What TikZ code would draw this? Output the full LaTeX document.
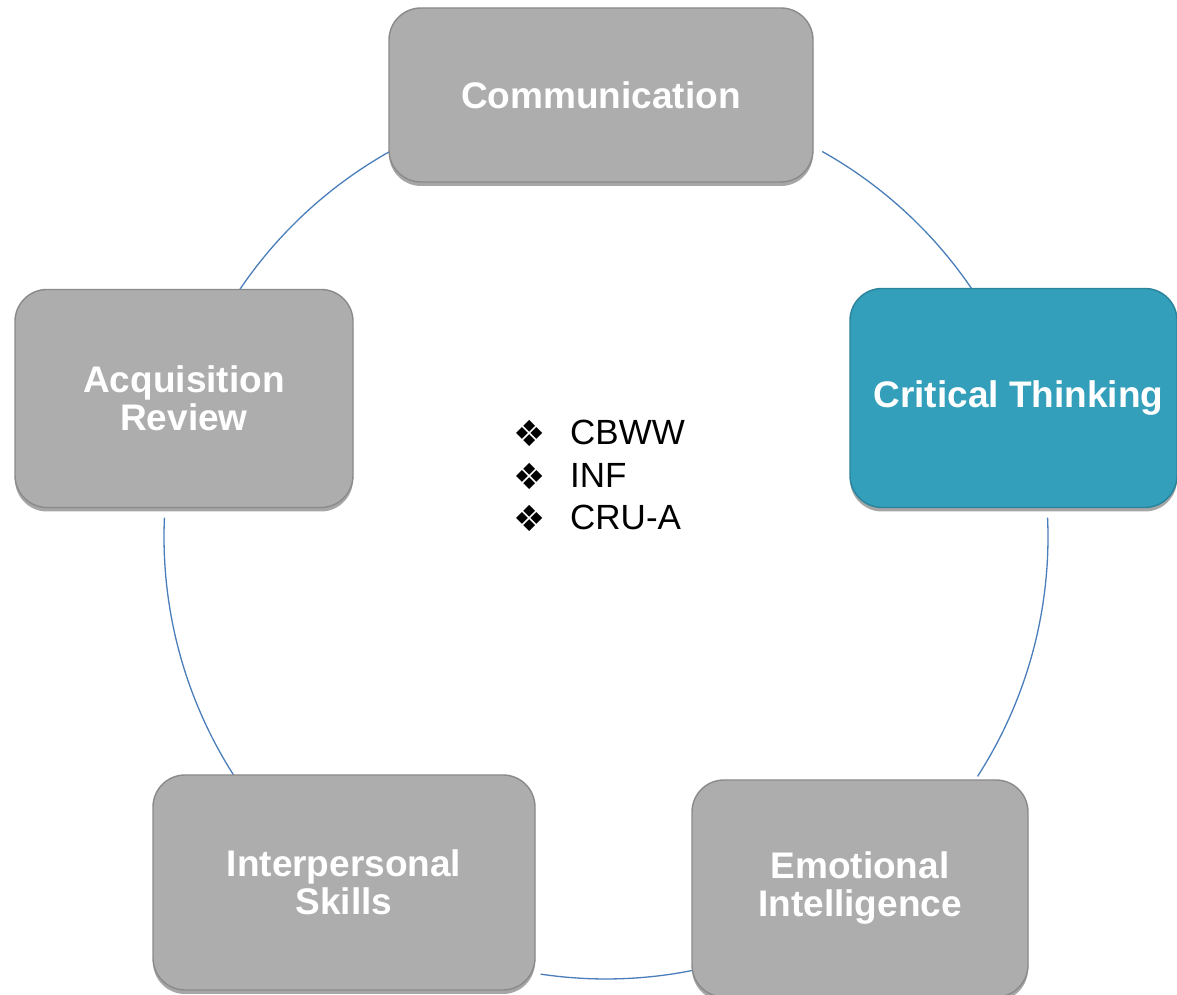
\documentclass[tikz,border=0pt]{standalone}
\usepackage{fontspec}
\setmainfont{Liberation Sans}
\newfontfamily\dejavu{DejaVu Sans}
\usetikzlibrary{shadows}
\definecolor{boxgray}{HTML}{ADADAD}
\definecolor{boxedge}{HTML}{8A8A8A}
\definecolor{teal}{HTML}{339FBB}
\definecolor{tealedge}{HTML}{2A839B}
\definecolor{ringblue}{HTML}{4A7EBB}
\tikzset{
  cyclebox/.style={rounded corners=32pt, fill=boxgray, draw=boxedge, line width=1.4pt,
    text=white, font=\bfseries\fontsize{37}{38}\selectfont, align=center,
    inner sep=0pt,
    drop shadow={shadow xshift=0pt, shadow yshift=-4pt, opacity=0.35, fill=black}},
  hibox/.style={cyclebox, fill=teal, draw=tealedge},
  ring/.style={draw=ringblue, line width=1.3pt},
  bullet/.style={anchor=base west, inner sep=0pt, font=\fontsize{35}{40}\selectfont}
}
\newcommand{\dia}{\makebox[57pt][l]{\raisebox{-2pt}{\dejavu\fontsize{36}{36}\selectfont ❖}}}
\begin{document}
\begin{tikzpicture}[x=1pt,y=1pt]
\useasboundingbox (0,0) rectangle (1177,995);
\coordinate (c) at (606,458);
% ring arcs
\draw[ring] (c) ++(60.7:442pt) arc[start angle=60.7, end angle=34.2, radius=442pt];
\draw[ring] (c) ++(2.5:442pt) arc[start angle=2.5, end angle=-32.8, radius=442pt];
\draw[ring] (c) ++(-78.8:442pt) arc[start angle=-78.8, end angle=-98.5, radius=442pt];
\draw[ring] (c) ++(177.5:442pt) arc[start angle=177.5, end angle=213.2, radius=442pt];
\draw[ring] (c) ++(119.4:442pt) arc[start angle=119.4, end angle=146, radius=442pt];
% boxes
\node[cyclebox, minimum width=424pt, minimum height=174pt] (comm) at (601,900) {Communication};
\node[hibox, minimum width=327pt, minimum height=219pt] (crit) at (1013.5,597) {\hspace*{10pt}Critical Thinking};
\node[cyclebox, minimum width=338pt, minimum height=218pt] (acq) at (184,596.5) {Acquisition\\Review};
\node[cyclebox, minimum width=382pt, minimum height=215pt] (inter) at (344,112.5) {Interpersonal\\Skills};
\node[cyclebox, minimum width=336pt, minimum height=217pt] (emo) at (860,106.5) {Emotional\\Intelligence};
% center list
\node[bullet] (b1) at (513,550) {\dia CBWW};
\node[bullet] (b2) at (513,507) {\dia INF};
\node[bullet] (b3) at (513,465) {\dia CRU-A};
\end{tikzpicture}
\end{document}
